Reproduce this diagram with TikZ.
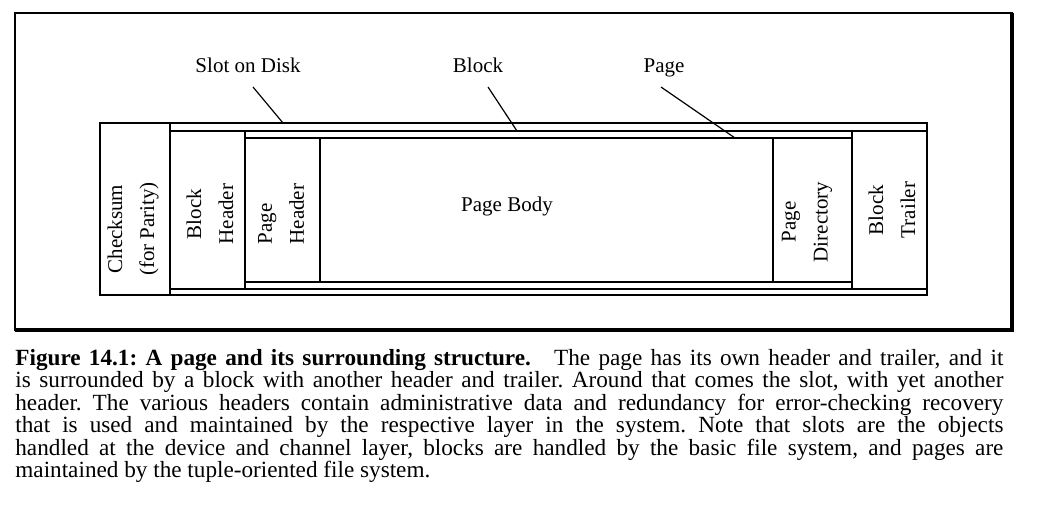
\documentclass[tikz,border=0pt]{standalone}
\usepackage{fontspec}
\setmainfont{Liberation Serif}
\hbadness=10000
\frenchspacing
\begin{document}
\begin{tikzpicture}[x=0.5pt, y=-0.5pt,
  every node/.style={font=\fontsize{10.5}{16}\selectfont},
  part/.style={draw, line width=0.6pt},
  sidetext/.style={rotate=90, align=center, inner sep=0pt},
  leader/.style={line width=0.6pt}]
  \useasboundingbox (0,0) rectangle (1058,521);

  % Outer frame
  \draw[line width=1.4pt] (15,13) rectangle (1012,330);
  \draw[line width=2.2pt] (1012,13) -- (1012,330) -- (15,330);

  % Slot on disk, checksum as its header
  \draw[part] (100,123) rectangle (927,295);
  \draw[part] (100,123) rectangle (170,295);

  % Block with header and trailer
  \draw[part] (170,131) rectangle (927,289);
  \draw[part] (245,131) -- (245,289);
  \draw[part] (852,131) -- (852,289);

  % Page with header and directory
  \draw[part] (245,138) rectangle (852,282);
  \draw[part] (320,138) -- (320,282);
  \draw[part] (773,138) -- (773,282);

  % Texts in the boxes
  \node[sidetext] (checksum) at (133,229) {Checksum\\(for Parity)};
  \node[sidetext] (blockhead) at (210,214) {Block\\Header};
  \node[sidetext, align=left] (pagehead) at (281,214) {Page\\Header};
  \node (pagebody) at (507,206) {Page Body};
  \node[sidetext] (pagedir) at (807,222) {Page\\Directory};
  \node[sidetext] (blocktrail) at (892,210) {Block\\Trailer};

  % Labels above
  \node[anchor=base] (slot) at (248,72) {Slot on Disk};
  \node[anchor=base] (block) at (478,72) {Block};
  \node[anchor=base] (page) at (664,72) {Page};

  \coordinate (slotend) at (283,123);
  \coordinate (blockend) at (517,131);
  \coordinate (pageend) at (735,138);

  \draw[leader] ([shift={(5,15)}]slot.base) -- (slotend);
  \draw[leader] ([shift={(10,15)}]block.base) -- (blockend);
  \draw[leader] ([shift={(-3,15)}]page.base) -- (pageend);

  % Caption
  \node[anchor=north west, inner sep=0pt, text width=494pt, align=justify,
    font=\fontsize{11.6}{11.2}\selectfont] (caption) at (15,349) {%
    \textbf{Figure 14.1: A page and its surrounding structure.}\quad The page has its own header and trailer, and it\linebreak
    is surrounded by a block with another header and trailer. Around that comes the slot, with yet another\linebreak
    header. The various headers contain administrative data and redundancy for error-checking recovery\linebreak
    that is used and maintained by the respective layer in the system. Note that slots are the objects\linebreak
    handled at the device and channel layer, blocks are handled by the basic file system, and pages are\linebreak
    maintained by the tuple-oriented file system.};
\end{tikzpicture}
\end{document}
